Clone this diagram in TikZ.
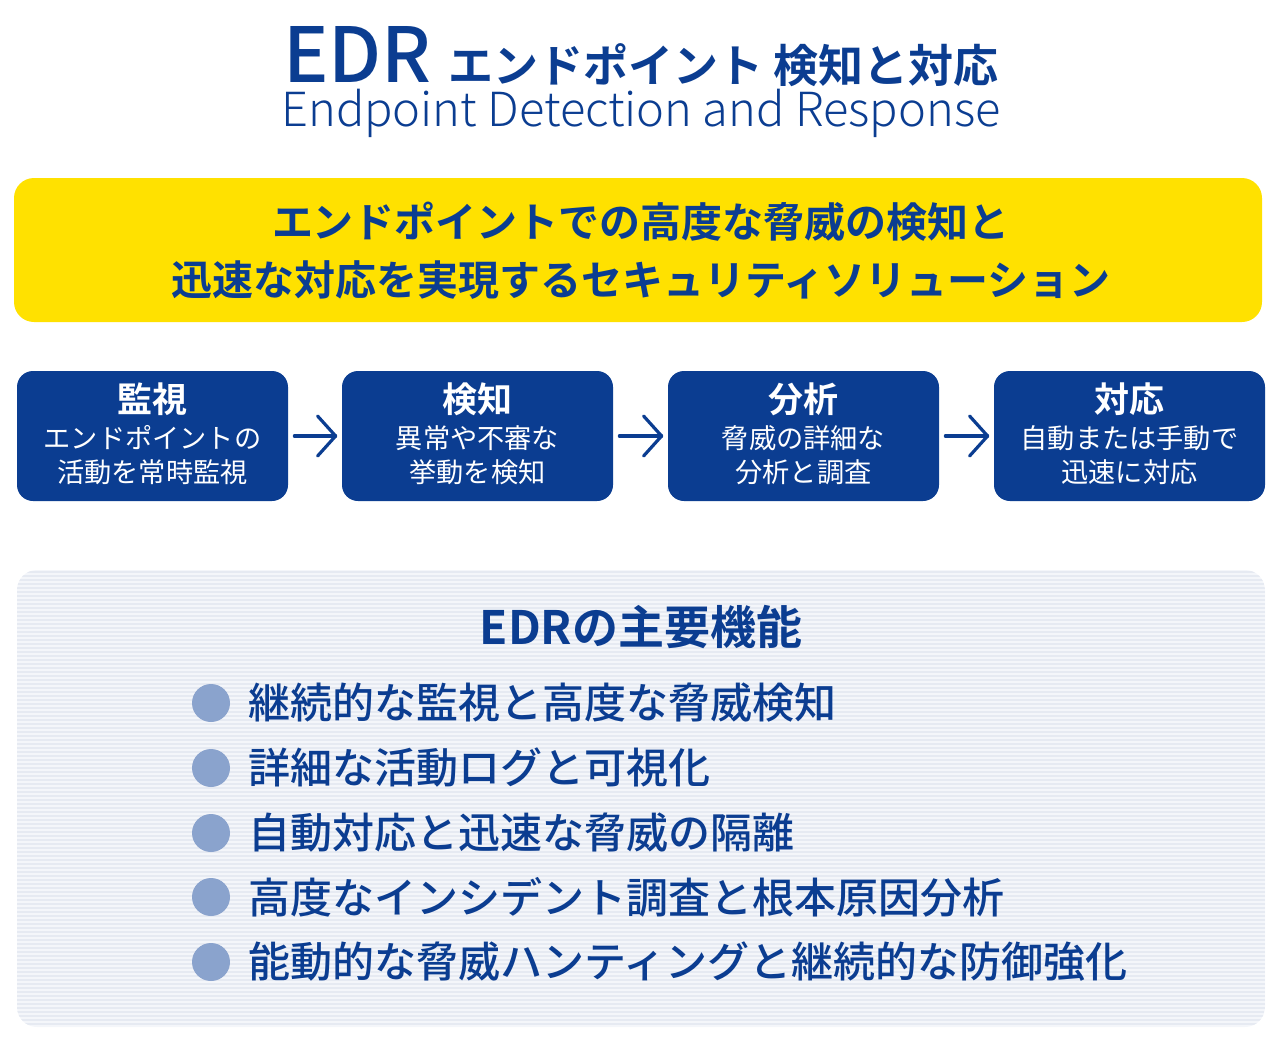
\documentclass[tikz,border=0pt]{standalone}
\usepackage{fontspec}
\setmainfont{Noto Sans CJK JP}
\newfontfamily\jpbold{Noto Sans CJK JP Bold}
\newfontfamily\jpmedium{Noto Sans CJK JP Medium}
\newfontfamily\jplight{Noto Sans CJK JP Light}
\usetikzlibrary{positioning}
\definecolor{edrblue}{HTML}{0B3D91}
\definecolor{edryellow}{HTML}{FFE100}
\definecolor{dotblue}{HTML}{8AA3CD}
\definecolor{panelbg}{HTML}{F4F6FA}
\definecolor{panelline}{HTML}{E6EAF2}
\tikzset{
  stepbox/.style={fill=edrblue, rounded corners=8pt, minimum width=135.5pt, minimum height=65pt, text=white, align=center, inner sep=0pt, text depth=0pt},
  steptext/.style={text=white, align=center, font=\fontsize{13.6}{17}\selectfont},
  steptitle/.style={text=white, font=\jpbold\fontsize{17.5}{20}\selectfont},
  flowarrow/.style={edrblue, line width=1.6pt, line cap=round, line join=round},
  bullet/.style={circle, fill=dotblue, minimum size=19pt, inner sep=0pt},
  feature/.style={anchor=west, text=edrblue, font=\jpmedium\fontsize{21}{24}\selectfont, inner sep=0pt},
}
\begin{document}
\begin{tikzpicture}[x=0.5pt, y=-0.5pt]
    \useasboundingbox (0,0) rectangle (1282,1045);

    % title
    \node[text=edrblue] at (641,57) (title) {\jpmedium\fontsize{38}{44}\selectfont EDR\ \jpbold\fontsize{22.5}{26}\selectfont エンドポイント 検知と対応};
    \node[text=edrblue, font=\jplight\fontsize{23.5}{26}\selectfont] at (641,113) (subtitle) {Endpoint Detection and Response};

    % summary
    \fill[edryellow, rounded corners=10pt] (14,178) rectangle (1262,322);
    \node[align=center, text=edrblue, font=\jpbold\fontsize{20.5}{29}\selectfont] at (641,251) (summary) {エンドポイントでの高度な脅威の検知と\\迅速な対応を実現するセキュリティソリューション};

    % flow
    \foreach \n/\x/\t/\a/\b in {monitor/152.5/監視/エンドポイントの/活動を常時監視, detect/477.5/検知/異常や不審な/挙動を検知, analyze/803.5/分析/脅威の詳細な/分析と調査, respond/1129.5/対応/自動または手動で/迅速に対応} {
        \node[stepbox] at (\x,436) (\n) {};
        \node[steptitle] at (\x,399) (\n title) {\t};
        \node[steptext] at (\x,455) (\n text) {\a\\\b};
    }

    \foreach \a/\b in {monitor/detect, detect/analyze, analyze/respond} {
        \draw[flowarrow] ([xshift=3pt]\a.east) -- ([xshift=-3pt]\b.west);
        \draw[flowarrow] ([xshift=-12pt,yshift=10pt]\b.west) -- ([xshift=-3pt]\b.west) -- ([xshift=-12pt,yshift=-10pt]\b.west);
    }

    % features panel
    \fill[panelbg, rounded corners=10pt] (17,570) rectangle (1265,1027);
    \begin{scope}
        \clip[rounded corners=10pt] (17,570) rectangle (1265,1027);
        \foreach \y in {572,576,...,1026} \draw[panelline, line width=0.8pt] (17,\y) -- (1265,\y);
    \end{scope}
    \node[text=edrblue, font=\jpbold\fontsize{23}{26}\selectfont] at (641,627) (features) {EDRの主要機能};

    \foreach \i/\y/\t in {1/703/継続的な監視と高度な脅威検知, 2/768/詳細な活動ログと可視化, 3/833/自動対応と迅速な脅威の隔離, 4/897/高度なインシデント調査と根本原因分析, 5/962/能動的な脅威ハンティングと継続的な防御強化} {
        \node[bullet] at (211,\y) (dot\i) {};
        \node[feature] at (248,\y) (item\i) {\t};
    }
\end{tikzpicture}
\end{document}
